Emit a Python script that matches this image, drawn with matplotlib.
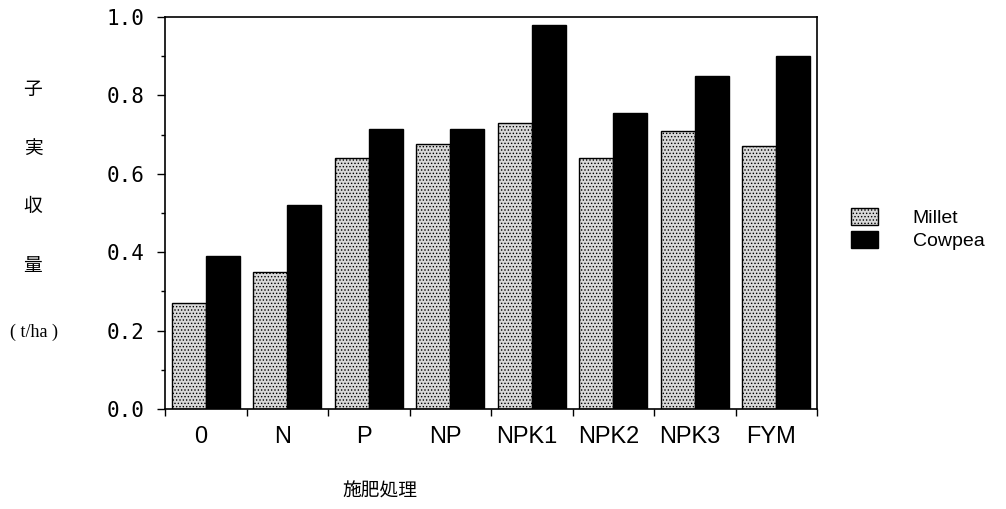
import numpy as np
import matplotlib
matplotlib.use("Agg")
import matplotlib.pyplot as plt
from matplotlib.ticker import MultipleLocator, FixedLocator, NullFormatter

plt.rcParams['font.family'] = ['Liberation Sans', 'DejaVu Sans']
plt.rcParams['hatch.color'] = '#555555'
plt.rcParams['hatch.linewidth'] = 0.6

treatments = ['0', 'N', 'P', 'NP', 'NPK1', 'NPK2', 'NPK3', 'FYM']
millet = [0.27, 0.35, 0.64, 0.675, 0.73, 0.64, 0.71, 0.67]
cowpea = [0.39, 0.52, 0.715, 0.715, 0.98, 0.755, 0.85, 0.90]
series_names = ['Millet', 'Cowpea']
yticks = [0.0, 0.2, 0.4, 0.6, 0.8, 1.0]

cjk = ['Noto Sans CJK JP', 'DejaVu Sans']

fig = plt.figure(figsize=(10.06, 5.09), dpi=100)
ax = fig.add_axes([165 / 1006, 1 - 409 / 509, 652 / 1006, 392 / 509])

x = np.arange(len(treatments))
w = 0.42
b1 = ax.bar(x - w / 2, millet, w, facecolor='#d9d9d9', edgecolor='black',
            hatch='.....', linewidth=1.0, label=series_names[0])
b2 = ax.bar(x + w / 2, cowpea, w, facecolor='black', edgecolor='black',
            linewidth=1.0, label=series_names[1])

ax.set_xlim(-0.5, len(treatments) - 0.5)
ax.set_ylim(0, 1.0)

ax.set_yticks(yticks)
ax.set_yticklabels([f'{v:.1f}' for v in yticks], family='DejaVu Sans Mono',
                   fontsize=15)
ax.yaxis.set_minor_locator(MultipleLocator(0.1))

# ticks at group boundaries, labels at group centres
ax.xaxis.set_major_locator(FixedLocator(np.arange(-0.5, len(treatments), 1.0)))
ax.xaxis.set_major_formatter(NullFormatter())
ax.xaxis.set_minor_locator(FixedLocator(x - 0.06))
ax.set_xticklabels(treatments, minor=True)
ax.tick_params(axis='x', which='minor', length=0, pad=12, labelsize=17)
ax.tick_params(axis='x', which='major', length=5, direction='out', width=1)
ax.tick_params(axis='y', which='major', length=6, direction='out', width=1,
               pad=9)
ax.tick_params(axis='y', which='minor', length=3, direction='out', width=1)

for s in ax.spines.values():
    s.set_linewidth(1.2)

# stacked vertical y label
for ch, yy in zip(['子', '実', '収', '量'], [89, 148, 207, 265]):
    fig.text(33 / 1006, 1 - yy / 509, ch, family=cjk, fontsize=13.5,
             ha='center', va='center')
fig.text(34 / 1006, 1 - 332 / 509, '( t/ha )', family=['Liberation Serif'],
         fontsize=13, ha='center', va='center')

fig.text(380 / 1006, 1 - 491 / 509, '施肥処理', family=cjk, fontsize=13.5,
         ha='center', va='center')

fig.legend(handles=[b1, b2], labels=series_names, loc='center left',
           bbox_to_anchor=(833 / 1006, 1 - 229 / 509), frameon=False,
           fontsize=14, handlelength=1.4, handleheight=1.0,
           handletextpad=1.8, labelspacing=0.2)

fig.savefig('out.png', dpi=100)
